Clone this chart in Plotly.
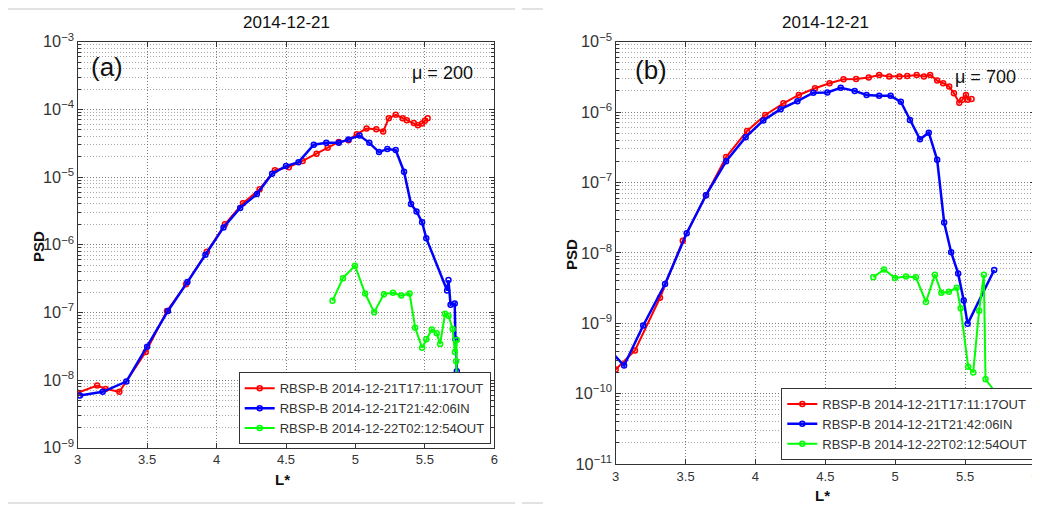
import plotly.graph_objects as go

# panel (a), mu = 200
a_red_x = [3.0, 3.14, 3.2, 3.30, 3.49, 3.643, 3.78, 3.93, 4.06, 4.19, 4.31, 4.42, 4.52, 4.62,
           4.72, 4.80, 4.88, 4.95, 5.01, 5.08, 5.15, 5.20, 5.24, 5.29, 5.34, 5.37, 5.42, 5.45,
           5.48, 5.50, 5.52]
a_red_y = [6.5e-9, 8.3e-9, 7.4e-9, 6.7e-9, 2.6e-8, 1.05e-7, 2.6e-7, 7.9e-7, 2.0e-6, 4.1e-6,
           6.6e-6, 1.26e-5, 1.4e-5, 1.73e-5, 2.2e-5, 2.7e-5, 3.3e-5, 3.5e-5, 4.3e-5, 5.2e-5,
           5.1e-5, 4.7e-5, 7.4e-5, 8.3e-5, 7.4e-5, 6.9e-5, 6.3e-5, 5.8e-5, 6.2e-5, 6.8e-5, 7.4e-5]

a_blue_x = [3.016, 3.18, 3.35, 3.50, 3.65, 3.79, 3.92, 4.05, 4.17, 4.29, 4.40, 4.50, 4.59,
            4.70, 4.79, 4.88, 4.95, 5.03, 5.10, 5.17, 5.23, 5.29, 5.35, 5.40, 5.44, 5.48,
            5.51, 5.66, 5.67, 5.685, 5.715, 5.72, 5.73, 5.74]
a_blue_y = [5.9e-9, 6.7e-9, 9.5e-9, 3.1e-8, 1.05e-7, 2.8e-7, 7.1e-7, 1.8e-6, 3.5e-6, 5.6e-6,
            1.12e-5, 1.45e-5, 1.66e-5, 3.0e-5, 3.2e-5, 3.2e-5, 3.6e-5, 4.1e-5, 3.2e-5, 2.34e-5,
            2.6e-5, 2.5e-5, 1.2e-5, 4.0e-6, 3.1e-6, 2.15e-6, 1.25e-6, 2.1e-7, 3.0e-7, 1.3e-7,
            1.35e-7, 4.0e-8, 1.35e-8, 8e-9]

a_green_x = [4.835, 4.91, 4.997, 5.07, 5.135, 5.205, 5.27, 5.33, 5.39, 5.43, 5.48, 5.51, 5.55,
             5.585, 5.61, 5.645, 5.67, 5.70, 5.716, 5.73, 5.725, 5.73, 5.74]
a_green_y = [1.48e-7, 3.2e-7, 4.9e-7, 1.9e-7, 1.0e-7, 1.86e-7, 1.95e-7, 1.77e-7, 1.9e-7, 5.9e-8,
             3.0e-8, 4.0e-8, 5.6e-8, 4.9e-8, 3.4e-8, 9.5e-8, 8.9e-8, 5.7e-8, 2.6e-8, 3.9e-8,
             1.9e-8, 1.1e-8, 5e-9]

# panel (b), mu = 700
b_red_x = [3.0, 3.138, 3.317, 3.48, 3.646, 3.79, 3.94, 4.07, 4.20, 4.31, 4.426, 4.53, 4.63,
           4.72, 4.81, 4.885, 4.957, 5.03, 5.086, 5.153, 5.205, 5.25, 5.30, 5.343, 5.386, 5.42,
           5.458, 5.48, 5.506, 5.52, 5.546]
b_red_y = [2.2e-10, 4.1e-10, 2.3e-9, 1.48e-8, 6.6e-8, 2.3e-7, 5.4e-7, 9.1e-7, 1.33e-6, 1.75e-6,
           2.18e-6, 2.57e-6, 2.93e-6, 2.95e-6, 3.1e-6, 3.37e-6, 3.2e-6, 3.2e-6, 3.25e-6, 3.37e-6,
           3.2e-6, 3.37e-6, 2.8e-6, 2.57e-6, 2.3e-6, 1.85e-6, 1.36e-6, 1.5e-6, 1.75e-6, 1.5e-6,
           1.53e-6]

b_blue_x = [2.95, 3.06, 3.197, 3.353, 3.508, 3.646, 3.79, 3.93, 4.056, 4.18, 4.30, 4.414, 4.514,
            4.61, 4.71, 4.795, 4.885, 4.967, 5.04, 5.105, 5.177, 5.24, 5.30, 5.35, 5.40, 5.45,
            5.49, 5.518, 5.708]
b_blue_y = [4.3e-10, 2.5e-10, 9.3e-10, 3.6e-9, 1.9e-8, 6.6e-8, 2.0e-7, 4.4e-7, 7.6e-7, 1.1e-6,
            1.43e-6, 1.89e-6, 1.9e-6, 2.22e-6, 2.0e-6, 1.75e-6, 1.7e-6, 1.7e-6, 1.4e-6, 7.7e-7,
            4.1e-7, 5.1e-7, 2.1e-7, 2.7e-8, 1.02e-8, 5.1e-9, 2.1e-9, 9.8e-10, 5.7e-9]

b_green_x = [4.843, 4.92, 4.998, 5.077, 5.148, 5.22, 5.284, 5.33, 5.384, 5.44, 5.468, 5.522,
             5.558, 5.60, 5.634, 5.646, 5.725, 5.76]
b_green_y = [4.5e-9, 5.8e-9, 4.4e-9, 4.6e-9, 4.5e-9, 2.0e-9, 4.9e-9, 2.7e-9, 2.8e-9, 3.2e-9,
             1.63e-9, 2.4e-10, 2.0e-10, 1.5e-9, 4.9e-9, 1.6e-10, 1.0e-10, 6e-11]

names = ["RBSP-B 2014-12-21T17:11:17OUT", "RBSP-B 2014-12-21T21:42:06IN",
         "RBSP-B 2014-12-22T02:12:54OUT"]
colors = ["#ff0000", "#0000ff", "#00ff00"]
widths = [2, 2.5, 2]

FONT = "Liberation Sans, Arial, sans-serif"

# the page body has an 8px margin, so the figure is drawn 8px in from the corner
OFF = 8
W, H = 1040 - OFF, 506 - OFF

def px(sx):
    return (sx - OFF) / W

def py(sy):
    return 1 - (sy - OFF) / H

fig = go.Figure()

panels = [
    ("x", "y", "legend", [(a_red_x, a_red_y), (a_blue_x, a_blue_y), (a_green_x, a_green_y)]),
    ("x2", "y2", "legend2", [(b_red_x, b_red_y), (b_blue_x, b_blue_y), (b_green_x, b_green_y)]),
]
for xa, ya, leg, series in panels:
    for (xs, ys), name, c, w in zip(series, names, colors, widths):
        fig.add_trace(go.Scatter(
            x=xs, y=ys, mode="lines+markers", name=name, legend=leg,
            xaxis=xa, yaxis=ya,
            line=dict(color=c, width=w),
            marker=dict(symbol="circle-open", size=5, color=c, line=dict(width=1.5, color=c)),
        ))

grid = dict(showgrid=True, gridcolor="#7a7a7a", griddash="1px,2px", gridwidth=1)
minor_y = dict(ticks="inside", ticklen=3, tickcolor="#333", dtick="D1",
               showgrid=True, gridcolor="#a8a8a8", griddash="1px,2px", gridwidth=1)
axis_common = dict(showline=True, linecolor="#333", linewidth=1, mirror="ticks",
                   ticks="inside", ticklen=5, tickcolor="#333", zeroline=False,
                   automargin=False,
                   tickfont=dict(family=FONT, size=13, color="#333"), **grid)

fig.update_layout(
    width=W, height=H,
    margin=dict(l=0, r=0, t=0, b=0, autoexpand=False),
    paper_bgcolor="white", plot_bgcolor="white",
    font=dict(family=FONT, color="#222"),
    xaxis=dict(domain=[px(77.7), px(494.3)], anchor="y", range=[3, 6], dtick=0.5, **axis_common),
    yaxis=dict(domain=[py(447.7), py(41.7)], anchor="x", type="log", range=[-9, -3], dtick=1,
               exponentformat="power", minor=minor_y, **axis_common),
    xaxis2=dict(domain=[px(615.7), px(1035)], anchor="y2", range=[3, 6], dtick=0.5,
                **axis_common),
    yaxis2=dict(domain=[py(464), py(41.7)], anchor="x2", type="log", range=[-11, -5], dtick=1,
                exponentformat="power", minor=minor_y, **axis_common),
    legend=dict(x=px(490.7), y=py(444.3), xanchor="right", yanchor="bottom",
                bgcolor="white", bordercolor="#333", borderwidth=1,
                font=dict(family=FONT, size=13, color="#333"), tracegroupgap=0),
    legend2=dict(x=px(1033.3), y=py(460), xanchor="right", yanchor="bottom",
                 bgcolor="white", bordercolor="#333", borderwidth=1,
                 font=dict(family=FONT, size=13, color="#333"), tracegroupgap=0),
    showlegend=True,
)

def txt(x, y, s, size, **kw):
    fig.add_annotation(x=px(x), y=py(y), xref="paper", yref="paper", text=s,
                       xanchor="center", yanchor="middle",
                       showarrow=False, font=dict(family=FONT, size=size, color="#111"), **kw)

txt(286, 22, "2014-12-21", 17)
txt(825, 22, "2014-12-21", 17)
txt(107, 67, "(a)", 26)
txt(442, 73, "\u03bc = 200", 18)
txt(651, 70, "(b)", 26)
txt(985, 77, "\u03bc = 700", 18)
txt(38, 247, "<b>PSD</b>", 15, textangle=-90)
txt(572, 255, "<b>PSD</b>", 15, textangle=-90)
txt(282, 479, "<b>L*</b>", 15)
txt(822, 495, "<b>L*</b>", 15)

# light frame lines of the original page
for x0, x1, y in [(8, 515, 9), (8, 515, 503), (522, 543, 9), (522, 543, 503)]:
    fig.add_shape(type="line", xref="paper", yref="paper", x0=px(x0), x1=px(x1),
                  y0=py(y), y1=py(y), line=dict(color="#d8d8d8", width=1.5))

fig.write_html("out.html")
